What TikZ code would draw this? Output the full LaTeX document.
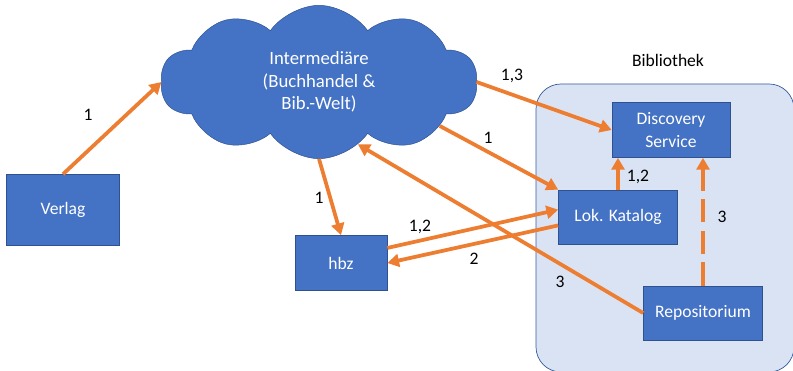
\documentclass[tikz,border=0pt]{standalone}
\usepackage{fontspec}
\setmainfont{Carlito}
\usepackage{tikz}
\usetikzlibrary{arrows.meta,shapes.symbols}
\definecolor{boxblau}{HTML}{4472C4}
\definecolor{randblau}{HTML}{2F528F}
\definecolor{hellblau}{HTML}{DAE3F3}
\definecolor{orange}{HTML}{ED7D31}

\begin{document}
\begin{tikzpicture}[x=0.03cm,y=-0.03cm,
    font=\fontsize{15}{19}\selectfont,
    box/.style={draw=randblau,fill=boxblau,text=white,align=center,line width=0.6pt,inner sep=0pt},
    wolke/.style={cloud,cloud puffs=10,cloud puff arc=110,cloud ignores aspect,draw=randblau,fill=boxblau,
      text=white,align=center,font=\fontsize{16}{19}\selectfont,
      minimum width=9.5cm,minimum height=4.6cm,inner sep=0pt},
    pfeil/.style={draw=orange,line width=3.2pt,-{Triangle[length=10pt,width=11pt]}},
    nr/.style={text=black,inner sep=1pt}] % Metadatenfluss Verlag -> Bibliothek
  \useasboundingbox (0,0) rectangle (793,371);
  % Bibliothek
  \node[draw=boxblau!80!black,fill=hellblau,rounded corners=0.75cm,line width=0.6pt,
    minimum width=7.74cm,minimum height=8.64cm] (bib) at (665,228) {};
  \node (bibtext) at (668,60) {Bibliothek};

  \node[wolke] (wolke) at (319,82) {Intermediäre\\(Buchhandel \&\\Bib.-Welt)};
  \node[box,minimum width=3.39cm,minimum height=2.13cm] (verlag) at (63,210) {Verlag};
  \node[box,minimum width=2.76cm,minimum height=1.65cm] (hbz) at (341,263) {hbz};
  \node[box,minimum width=3.54cm,minimum height=1.65cm] (disc) at (671,130) {Discovery\\Service};
  \node[box,minimum width=3.57cm,minimum height=1.62cm] (lok) at (618,217) {Lok. Katalog};
  \node[box,minimum width=3.57cm,minimum height=1.62cm] (repo) at (703,313) {Repositorium};

  \draw[pfeil] (verlag.north) -- (wolke.west);
  \draw[pfeil] (wolke.east) -- (disc.west);
  \draw[pfeil] (wolke.-20) -- (lok.north west);
  \draw[pfeil] (wolke.south) -- (hbz.north);
  \draw[pfeil] (hbz.18) -- (lok.173);
  \draw[pfeil] (lok.188) -- (hbz.east);
  \draw[pfeil] (repo.west) -- (wolke.-58);
  \draw[pfeil] (lok.north) -- (lok.north |- disc.south);
  \draw[pfeil,dash pattern=on 20pt off 7pt] (repo.north) -- (repo.north |- disc.south);

  \node[nr] (n1) at (88,115) {1};
  \node[nr] (n2) at (512,76) {1,3};
  \node[nr] (n3) at (488,138) {1};
  \node[nr] (n4) at (319,198) {1};
  \node[nr] (n5) at (420,227) {1,2};
  \node[nr] (n6) at (474,259) {2};
  \node[nr] (n7) at (560,282) {3};
  \node[nr] (n8) at (638,177) {1,2};
  \node[nr] (n9) at (722,217) {3};
\end{tikzpicture}
\end{document}
